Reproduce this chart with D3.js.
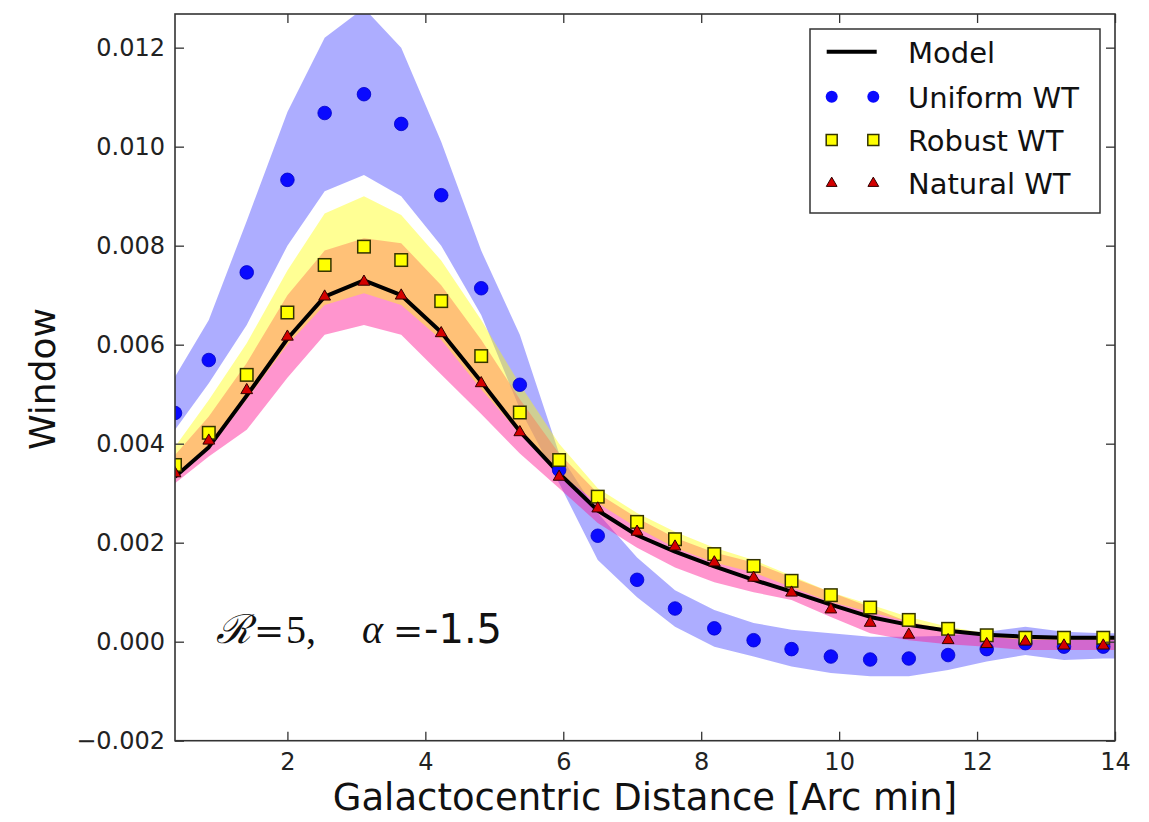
<!DOCTYPE html>
<html><head><meta charset="utf-8">
<script src="https://cdn.jsdelivr.net/npm/d3@7"></script>
<style>body{margin:0;background:#fff}</style>
</head><body>
<svg id="chart" width="1149" height="822"></svg>
<script>
// ---- data ----
const distance = [0.37, 0.86, 1.41, 2.00, 2.54, 3.11, 3.65, 4.23, 4.81, 5.37, 5.94, 6.50, 7.07, 7.62, 8.19, 8.76, 9.31, 9.88, 10.45, 11.01, 11.58, 12.14, 12.70, 13.26, 13.83, 14.39];
const model     = [0.00333, 0.00393, 0.00497, 0.00612, 0.00697, 0.00730, 0.00700, 0.00625, 0.00525, 0.00425, 0.00340, 0.00265, 0.00215, 0.00182, 0.00152, 0.00125, 0.00101, 0.00075, 0.00050, 0.00034, 0.00022, 0.00014, 0.00010, 0.00008, 0.00008, 0.00008];
const uniform   = [0.00462, 0.00569, 0.00746, 0.00933, 0.01068, 0.01106, 0.01046, 0.00902, 0.00714, 0.00519, 0.00347, 0.00214, 0.00125, 0.00067, 0.00027, 0.00003, -0.00015, -0.00030, -0.00036, -0.00034, -0.00027, -0.00015, -0.00003, -0.00010, -0.00010, -0.00010];
const uniformLo = [0.00428, 0.00522, 0.00640, 0.00800, 0.00910, 0.00943, 0.00900, 0.00800, 0.00660, 0.00470, 0.00320, 0.00165, 0.00090, 0.00030, -0.00010, -0.00030, -0.00050, -0.00063, -0.00070, -0.00070, -0.00057, -0.00040, -0.00027, -0.00037, -0.00034, -0.00034];
const uniformHi = [0.00535, 0.00650, 0.00850, 0.01070, 0.01220, 0.01280, 0.01200, 0.01010, 0.00790, 0.00620, 0.00380, 0.00260, 0.00170, 0.00104, 0.00064, 0.00038, 0.00024, 0.00017, 0.00010, 0.00010, 0.00012, 0.00020, 0.00030, 0.00020, 0.00017, 0.00017];
const robust    = [0.00357, 0.00422, 0.00539, 0.00665, 0.00761, 0.00798, 0.00771, 0.00688, 0.00577, 0.00463, 0.00367, 0.00293, 0.00242, 0.00207, 0.00177, 0.00153, 0.00123, 0.00094, 0.00069, 0.00044, 0.00026, 0.00013, 0.00008, 0.00008, 0.00008, 0.00008];
const robustLo  = [0.00330, 0.00390, 0.00490, 0.00600, 0.00680, 0.00704, 0.00680, 0.00610, 0.00510, 0.00420, 0.00340, 0.00280, 0.00230, 0.00190, 0.00160, 0.00140, 0.00110, 0.00080, 0.00060, 0.00040, 0.00020, 0.00010, 0.00004, 0.00004, 0.00004, 0.00004];
const robustHi  = [0.00394, 0.00488, 0.00603, 0.00750, 0.00865, 0.00900, 0.00862, 0.00770, 0.00650, 0.00520, 0.00400, 0.00310, 0.00260, 0.00222, 0.00190, 0.00165, 0.00133, 0.00100, 0.00075, 0.00050, 0.00030, 0.00017, 0.00012, 0.00010, 0.00010, 0.00010];
const natural   = [0.00340, 0.00406, 0.00508, 0.00616, 0.00697, 0.00727, 0.00699, 0.00623, 0.00522, 0.00423, 0.00333, 0.00269, 0.00222, 0.00192, 0.00160, 0.00129, 0.00099, 0.00065, 0.00038, 0.00014, 0.00003, -0.00005, 0.00000, -0.00008, -0.00008, -0.00008];
const naturalLo = [0.00320, 0.00374, 0.00428, 0.00533, 0.00620, 0.00640, 0.00620, 0.00540, 0.00460, 0.00380, 0.00310, 0.00240, 0.00190, 0.00150, 0.00120, 0.00100, 0.00084, 0.00050, 0.00017, 0.00003, -0.00005, -0.00010, -0.00017, -0.00017, -0.00017, -0.00017];
const naturalHi = [0.00377, 0.00455, 0.00563, 0.00700, 0.00790, 0.00815, 0.00805, 0.00720, 0.00610, 0.00490, 0.00380, 0.00300, 0.00250, 0.00210, 0.00180, 0.00160, 0.00130, 0.00100, 0.00070, 0.00040, 0.00025, 0.00015, 0.00010, 0.00010, 0.00010, 0.00010];
const yTicks = [-0.002, 0.000, 0.002, 0.004, 0.006, 0.008, 0.010, 0.012];
const xTicks = [2, 4, 6, 8, 10, 12, 14];
const legendLabels = ["Model", "Uniform WT", "Robust WT", "Natural WT"];
const xTitle = "Galactocentric Distance [Arc min]";
const yTitle = "Window";

// ---- layout ----
const L = 175, R = 1115, T = 14, B = 740.7;
const svg = d3.select("#chart");
const x = d3.scaleLinear().domain([0.37, 14]).range([L, R]);
const y = d3.scaleLinear().domain([-0.002, 0.01268]).range([B, T]);
const idx = d3.range(distance.length);

svg.append("defs").append("clipPath").attr("id", "clip")
  .append("rect").attr("x", L).attr("y", T).attr("width", R - L).attr("height", B - T);

const plot = svg.append("g").attr("clip-path", "url(#clip)");

function band(lo, hi, color, op) {
  plot.append("path")
    .attr("d", d3.area().x(i => x(distance[i])).y0(i => y(lo[i])).y1(i => y(hi[i]))(idx))
    .attr("fill", color).attr("fill-opacity", op).attr("stroke", "none");
}
band(uniformLo, uniformHi, "#0000ff", 0.32);
band(naturalLo, naturalHi, "#ff1493", 0.45);
band(robustLo, robustHi, "#ffff00", 0.42);

plot.append("path")
  .attr("d", d3.line().x(i => x(distance[i])).y(i => y(model[i]))(idx))
  .attr("fill", "none").attr("stroke", "#000").attr("stroke-width", 4).attr("stroke-linejoin", "round");

plot.selectAll("circle.u").data(idx).join("circle")
  .attr("cx", i => x(distance[i])).attr("cy", i => y(uniform[i])).attr("r", 6.8)
  .attr("fill", "#0a0aff").attr("stroke", "#0000c8").attr("stroke-width", 0.8);

const sq = 12.5;
plot.selectAll("rect.r").data(idx).join("rect")
  .attr("x", i => x(distance[i]) - sq / 2).attr("y", i => y(robust[i]) - sq / 2)
  .attr("width", sq).attr("height", sq)
  .attr("fill", "#ffff00").attr("stroke", "#333300").attr("stroke-width", 1.5);

const tri = d3.symbol(d3.symbolTriangle, 60);
plot.selectAll("path.n").data(idx).join("path")
  .attr("transform", i => `translate(${x(distance[i])},${y(natural[i])})`)
  .attr("d", tri).attr("fill", "#d40000").attr("stroke", "#300000").attr("stroke-width", 1);

// ---- axes ----
const fmt = v => d3.format(".3f")(v).replace("-", "\u2212");
const font = "DejaVu Sans, Verdana, sans-serif";
function styleAxis(g, labels) {
  g.select(".domain").remove();
  g.selectAll(".tick line").attr("stroke", "#333").attr("stroke-width", 1.3);
  g.selectAll(".tick text").attr("fill", "#222").attr("font-size", 24).attr("font-family", font);
  if (!labels) g.selectAll(".tick text").remove();
}
svg.append("g").attr("transform", `translate(${L},0)`)
  .call(d3.axisLeft(y).tickValues(yTicks).tickFormat(fmt).tickSizeInner(-9).tickSizeOuter(0).tickPadding(10))
  .call(g => styleAxis(g, true));
svg.append("g").attr("transform", `translate(${R},0)`)
  .call(d3.axisRight(y).tickValues(yTicks).tickSizeInner(-9).tickSizeOuter(0))
  .call(g => styleAxis(g, false));
svg.append("g").attr("transform", `translate(0,${B})`)
  .call(d3.axisBottom(x).tickValues(xTicks).tickFormat(d3.format("d")).tickSizeInner(-9).tickSizeOuter(0).tickPadding(12))
  .call(g => styleAxis(g, true));
svg.append("g").attr("transform", `translate(0,${T})`)
  .call(d3.axisTop(x).tickValues(xTicks).tickSizeInner(-9).tickSizeOuter(0))
  .call(g => styleAxis(g, false));

svg.append("rect").attr("x", L).attr("y", T).attr("width", R - L).attr("height", B - T)
  .attr("fill", "none").attr("stroke", "#333").attr("stroke-width", 1.6);

// ---- titles ----
svg.append("text").attr("x", (L + R) / 2).attr("y", 810).attr("text-anchor", "middle")
  .attr("font-family", font).attr("font-size", 37).attr("fill", "#111").text(xTitle);
svg.append("text").attr("transform", "translate(55,379) rotate(-90)").attr("text-anchor", "middle")
  .attr("font-family", font).attr("font-size", 36).attr("fill", "#111").text(yTitle);

// ---- annotation ----
const ann = svg.append("text").attr("y", 643).attr("font-size", 40).attr("fill", "#111");
const serif = "Liberation Serif, DejaVu Serif, serif";
ann.append("tspan").attr("x", 216).attr("font-family", serif).attr("font-style", "italic").text("\u211B");
ann.append("tspan").attr("x", 254).attr("font-family", "DejaVu Serif").attr("font-size", 36).text("=");
ann.append("tspan").attr("x", 286).attr("font-family", serif).text("5,");
ann.append("tspan").attr("x", 362).attr("font-family", serif).attr("font-style", "italic").text("\u03B1");
ann.append("tspan").attr("x", 393).attr("font-family", "DejaVu Serif").attr("font-size", 36).text("=");
ann.append("tspan").attr("x", 424).attr("font-family", font).text("-1.5");

// ---- legend ----
const lg = svg.append("g");
lg.append("rect").attr("x", 810).attr("y", 29).attr("width", 290).attr("height", 184)
  .attr("fill", "#fff").attr("stroke", "#333").attr("stroke-width", 1.5);
const rowY = [51.7, 96.7, 140, 183.3];
const mx = [831.7, 873.3];
lg.append("line").attr("x1", 826.7).attr("x2", 876.7).attr("y1", rowY[0]).attr("y2", rowY[0])
  .attr("stroke", "#000").attr("stroke-width", 4);
mx.forEach(px => {
  lg.append("circle").attr("cx", px).attr("cy", rowY[1]).attr("r", 6).attr("fill", "#0a0aff");
  lg.append("rect").attr("x", px - 5.5).attr("y", rowY[2] - 5.5).attr("width", 11).attr("height", 11)
    .attr("fill", "#ffff00").attr("stroke", "#333300").attr("stroke-width", 1.5);
  lg.append("path").attr("transform", `translate(${px},${rowY[3]})`).attr("d", d3.symbol(d3.symbolTriangle, 50))
    .attr("fill", "#d40000").attr("stroke", "#300000").attr("stroke-width", 1);
});
legendLabels.forEach((t, k) => {
  lg.append("text").attr("x", 908).attr("y", rowY[k] + 11).attr("font-family", font)
    .attr("font-size", 29).attr("fill", "#111").text(t);
});
</script>
</body></html>
